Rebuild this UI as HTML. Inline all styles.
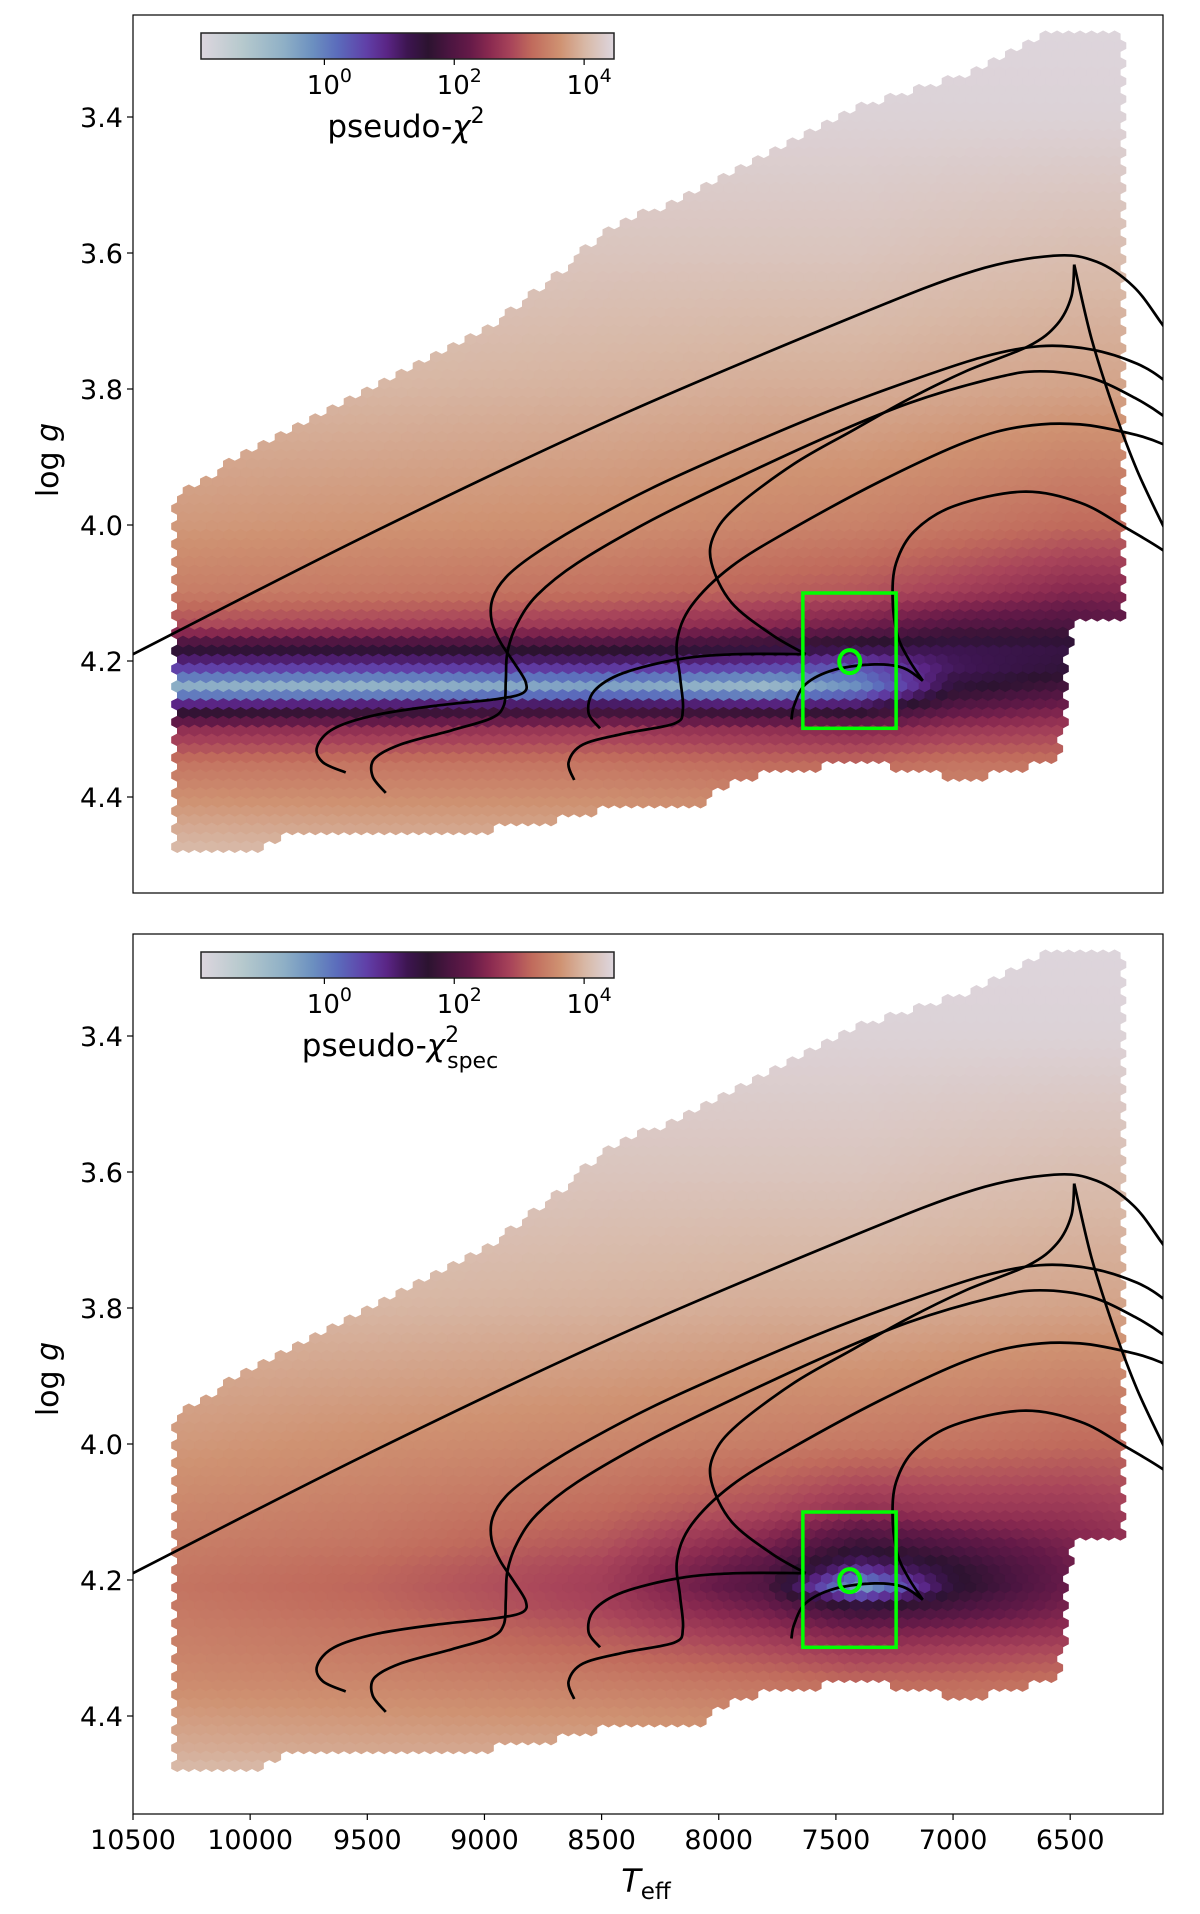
<!DOCTYPE html>
<html><head><meta charset="utf-8">
<style>
html,body{margin:0;padding:0;background:#fff;}
svg{display:block;font-family:"DejaVu Sans","Liberation Sans",sans-serif;}
</style></head>
<body>
<svg id="fig" width="1200" height="1914" viewBox="0 0 1200 1914" xmlns="http://www.w3.org/2000/svg">
<defs>
<linearGradient id="cmap" x1="0" x2="1" y1="0" y2="0"></linearGradient>
<clipPath id="clipTop"><rect x="133" y="15" width="1030" height="878"/></clipPath>
<clipPath id="clipBot"><rect x="133" y="934" width="1030" height="880"/></clipPath>
</defs>
<g id="panelTop"></g>
<g id="panelBot"></g>
</svg>
<script>
// ---------- data ----------
const tempCols = [10300, 9500, 8500, 7800, 7400, 7000, 6500, 6200];
const loggRows = [3.25, 3.4, 3.6, 3.8, 4.0, 4.1, 4.15, 4.18, 4.21, 4.24, 4.27, 4.30, 4.35, 4.45, 4.5];
const chi2Top = [
 [4.45,4.45,4.45,4.45,4.45,4.45,4.45,4.45],
 [4.4,4.4,4.4,4.4,4.4,4.4,4.4,4.4],
 [4.25,4.25,4.2,4.2,4.2,4.15,4.1,4.1],
 [4.0,4.0,3.95,3.9,3.9,3.85,3.8,3.8],
 [3.7,3.65,3.6,3.5,3.45,3.35,3.2,3.2],
 [3.4,3.35,3.25,3.1,3.0,2.8,2.5,2.5],
 [2.9,2.8,2.7,2.5,2.3,2.0,1.9,2.1],
 [1.7,1.7,1.8,1.6,1.4,1.3,1.4,1.7],
 [0.7,0.7,0.8,0.6,0.4,1.2,1.5,1.9],
 [-0.7,-0.8,-0.5,-0.9,-0.2,1.5,1.9,2.3],
 [1.4,1.5,1.6,1.5,1.4,2.1,2.4,2.6],
 [2.6,2.6,2.7,2.6,2.5,2.7,2.8,2.9],
 [3.3,3.3,3.3,3.2,3.2,3.3,3.3,3.3],
 [3.9,3.85,3.85,3.8,3.8,3.8,3.8,3.8],
 [4.15,4.15,4.15,4.15,4.15,4.15,4.15,4.15]
];
const chi2Spec = [
 [4.45,4.45,4.45,4.45,4.45,4.45,4.45,4.45],
 [4.4,4.4,4.4,4.4,4.4,4.4,4.4,4.4],
 [4.25,4.25,4.2,4.2,4.2,4.15,4.1,4.1],
 [4.0,4.0,3.95,3.9,3.9,3.85,3.8,3.8],
 [3.7,3.6,3.5,3.4,3.35,3.3,3.2,3.2],
 [3.5,3.4,3.2,2.9,2.6,2.7,2.7,2.8],
 [3.4,3.3,3.0,2.4,1.7,2.0,2.4,2.6],
 [3.35,3.2,2.85,2.1,1.0,1.6,2.3,2.6],
 [3.3,3.15,2.8,2.0,-0.5,1.5,2.3,2.6],
 [3.35,3.2,2.85,2.3,1.6,1.9,2.4,2.7],
 [3.4,3.3,3.0,2.6,2.3,2.4,2.6,2.8],
 [3.45,3.35,3.15,2.9,2.7,2.8,2.9,3.0],
 [3.55,3.5,3.4,3.3,3.2,3.2,3.3,3.3],
 [3.9,3.85,3.85,3.8,3.8,3.8,3.8,3.8],
 [4.15,4.15,4.15,4.15,4.15,4.15,4.15,4.15]
];
const upperT = [10330,10027,9507,8987,8467,7947,7427,6907,6647,6290];
const upperG = [3.963,3.891,3.80,3.712,3.568,3.479,3.389,3.335,3.282,3.273];
const lowerT = [10330,9930,9880,9500,8880,8600,8470,8080,7950,7430,6910,6540,6500,6290];
const lowerG = [4.475,4.475,4.455,4.455,4.446,4.43,4.41,4.42,4.375,4.348,4.375,4.34,4.142,4.142];

const track1 = [[[10650,4.216],[10500,4.190],[9507,4.016],[8467,3.846],[7427,3.694],[6907,3.626],[6569,3.604],[6387,3.613],[6231,3.649],[6111,3.703],[6000,3.76]]];
const track2 = [[[9592,4.364],[9690,4.349],[9714,4.326],[9641,4.299],[9458,4.279],[9190,4.265],[8946,4.256],[8836,4.247],[8824,4.231],[8873,4.203],[8934,4.171],[8970,4.140],[8965,4.108],[8909,4.077],[8799,4.046],[8604,4.004],[8287,3.946],[7921,3.889],[7556,3.836],[7190,3.789],[6873,3.753],[6629,3.737],[6409,3.742],[6214,3.763],[6092,3.789],[6000,3.82]]];
const track3 = [[[9421,4.394],[9477,4.370],[9470,4.344],[9360,4.323],[9141,4.302],[8970,4.284],[8917,4.265],[8909,4.229],[8902,4.187],[8860,4.145],[8775,4.103],[8604,4.056],[8287,3.993],[7921,3.931],[7556,3.873],[7190,3.821],[6824,3.784],[6629,3.774],[6409,3.784],[6214,3.815],[6092,3.842],[6000,3.87]]];
const track4 = [[[8617,4.375],[8641,4.349],[8580,4.323],[8409,4.307],[8190,4.292],[8153,4.271],[8165,4.224],[8178,4.171],[8117,4.119],[7946,4.061],[7678,4.004],[7312,3.936],[6946,3.878],[6702,3.855],[6458,3.852],[6214,3.868],[6092,3.883],[6000,3.90]]];
const track5 = [
 [[8507,4.299],[8556,4.276],[8531,4.244],[8409,4.218],[8165,4.197],[7921,4.190],[7629,4.190]],
 [[7629,4.190],[7775,4.161],[7946,4.114],[8031,4.056],[8019,4.014],[7921,3.972],[7678,3.910],[7434,3.862],[7190,3.815],[6946,3.774],[6678,3.737],[6556,3.705],[6495,3.664],[6483,3.617]],
 [[6483,3.617],[6409,3.726],[6312,3.831],[6214,3.920],[6092,4.009],[6000,4.07]]
];
const track6 = [
 [[7690,4.286],[7678,4.265],[7629,4.234],[7507,4.213],[7336,4.205],[7214,4.210],[7129,4.229]],
 [[7129,4.229],[7190,4.197],[7238,4.161],[7258,4.108],[7243,4.056],[7165,4.009],[6995,3.972],[6702,3.951],[6458,3.967],[6263,4.004],[6092,4.040],[6000,4.07]]
];
const tracks = [track1, track2, track3, track4, track5, track6];

const boxTeff = [7641, 7243];
const boxLogg = [4.100, 4.299];
const bestTeff = 7441;
const bestLogg = 4.201;

const xTicks = [10500, 10000, 9500, 9000, 8500, 8000, 7500, 7000, 6500];
const yTicks = [3.4, 3.6, 3.8, 4.0, 4.2, 4.4];
const yTickLabels = ["3.4", "3.6", "3.8", "4.0", "4.2", "4.4"];
const cbarTicks = [0, 2, 4];
const cbarMin = -1.9, cbarMax = 4.46;

const cmapPos = [0,0.1,0.2,0.27,0.33,0.4,0.45,0.5,0.55,0.6,0.65,0.7,0.75,0.8,0.87,0.93,1];
const cmapCol = ["#ddd6de","#b6c9cd","#8fb0c6","#6c90c0","#5b6cbc","#6040a8","#5a2585","#3d1550","#2c1330","#4a1540","#641a48","#8a2a50","#a8445a","#c06a5c","#cf9272","#d8b8a6","#ddd6de"];

// ---------- geometry ----------
const L = 133, R = 1163;
const panels = [
  {id:'panelTop', top:15, bottom:893, clip:'clipTop', grid:chi2Top, sub:null},
  {id:'panelBot', top:934, bottom:1814, clip:'clipBot', grid:chi2Spec, sub:'spec'}
];
const NS = 'http://www.w3.org/2000/svg';
function xS(T){ return L + (10500 - T) * 0.2343; }
function yS(g, p){ return p.top + (g - 3.25) * 680; }
function xInv(x){ return 10500 - (x - L) / 0.2343; }
function yInv(y, p){ return 3.25 + (y - p.top) / 680; }

function interpDesc(xs, ys, x){
  if (x >= xs[0]) return ys[0];
  for (let i = 1; i < xs.length; i++){
    if (x >= xs[i]){ const f = (xs[i-1]-x)/(xs[i-1]-xs[i]); return ys[i-1] + f*(ys[i]-ys[i-1]); }
  }
  return ys[ys.length-1];
}
function sampleGrid(grid, T, g){
  let ci = 0; while (ci < tempCols.length-2 && T < tempCols[ci+1]) ci++;
  let fc = (tempCols[ci]-T)/(tempCols[ci]-tempCols[ci+1]); fc = Math.max(0, Math.min(1, fc));
  let ri = 0; while (ri < loggRows.length-2 && g > loggRows[ri+1]) ri++;
  let fr = (g-loggRows[ri])/(loggRows[ri+1]-loggRows[ri]); fr = Math.max(0, Math.min(1, fr));
  const a = grid[ri][ci]*(1-fc) + grid[ri][ci+1]*fc;
  const b = grid[ri+1][ci]*(1-fc) + grid[ri+1][ci+1]*fc;
  return a*(1-fr) + b*fr;
}
function hex2rgb(h){ return [parseInt(h.substr(1,2),16),parseInt(h.substr(3,2),16),parseInt(h.substr(5,2),16)]; }
const cmapRGB = cmapCol.map(hex2rgb);
function cmap(v){
  let t = (v - cbarMin)/(cbarMax - cbarMin); t = Math.max(0, Math.min(1, t));
  let i = 0; while (i < cmapPos.length-2 && t > cmapPos[i+1]) i++;
  const f = (t - cmapPos[i])/(cmapPos[i+1]-cmapPos[i]);
  const c = cmapRGB[i].map((c0,k)=>Math.round(c0 + f*(cmapRGB[i+1][k]-c0)));
  return 'rgb('+c[0]+','+c[1]+','+c[2]+')';
}
const grad = document.getElementById('cmap');
cmapPos.forEach((p,i)=>{ const s=document.createElementNS(NS,'stop'); s.setAttribute('offset',p); s.setAttribute('stop-color',cmapCol[i]); grad.appendChild(s); });

function smoothPath(pts, p){
  const P = pts.map(q=>[xS(q[0]), yS(q[1], p)]);
  let d = 'M'+P[0][0].toFixed(1)+','+P[0][1].toFixed(1);
  for (let i = 0; i < P.length-1; i++){
    const p0 = P[Math.max(0,i-1)], p1 = P[i], p2 = P[i+1], p3 = P[Math.min(P.length-1,i+2)];
    const c1 = [p1[0]+(p2[0]-p0[0])/6, p1[1]+(p2[1]-p0[1])/6];
    const c2 = [p2[0]-(p3[0]-p1[0])/6, p2[1]-(p3[1]-p1[1])/6];
    d += ' C'+c1[0].toFixed(1)+','+c1[1].toFixed(1)+' '+c2[0].toFixed(1)+','+c2[1].toFixed(1)+' '+p2[0].toFixed(1)+','+p2[1].toFixed(1);
  }
  return d;
}
function mk(tag, attrs, parent){
  const e = document.createElementNS(NS, tag);
  for (const k in attrs) e.setAttribute(k, attrs[k]);
  parent.appendChild(e); return e;
}

const hw = 5.75, ha = 5.95, rowStep = 8.9;
panels.forEach((p, pi)=>{
  const g = document.getElementById(p.id);
  const hexG = mk('g', {'clip-path':'url(#'+p.clip+')'}, g);
  
  
  for (let r = 0; ; r++){
    const y = p.top + 4 + r*rowStep; if (y > p.bottom) break;
    const off = (r%2) ? hw : 0;
    for (let x = L + 4 + off; x < R; x += 2*hw){
      const T = xInv(x), gg = yInv(y, p);
      if (T > 10335 || T < 6285) continue;
      if (gg < interpDesc(upperT, upperG, T) || gg > interpDesc(lowerT, lowerG, T)) continue;
      const col = cmap(sampleGrid(p.grid, T, gg));
      const pts = [[x,y-ha],[x+hw,y-ha/2],[x+hw,y+ha/2],[x,y+ha],[x-hw,y+ha/2],[x-hw,y-ha/2]].map(q=>q[0].toFixed(1)+','+q[1].toFixed(1)).join(' ');
      const h = mk('polygon', {points:pts, fill:col, stroke:col, 'stroke-width':'0.6'}, hexG);
      
      
    }
  }
  const trG = mk('g', {'clip-path':'url(#'+p.clip+')', fill:'none', stroke:'#000', 'stroke-width':'2.7', 'stroke-linejoin':'round'}, g);
  
  
  tracks.forEach((tr, ti)=>{
    tr.forEach(seg=>{
      const pa = mk('path', {d:smoothPath(seg, p)}, trG);
      
      
    });
  });
  const bx = mk('rect', {x:xS(boxTeff[0]), y:yS(boxLogg[0],p), width:xS(boxTeff[1])-xS(boxTeff[0]), height:yS(boxLogg[1],p)-yS(boxLogg[0],p), fill:'none', stroke:'#00ff00', 'stroke-width':'3.5'}, g);
  
  
  const ci = mk('ellipse', {cx:xS(bestTeff), cy:yS(bestLogg,p), rx:10.5, ry:11.5, fill:'none', stroke:'#00ff00', 'stroke-width':'4'}, g);
  
  
  const fr = mk('rect', {x:L, y:p.top, width:R-L, height:p.bottom-p.top, fill:'none', stroke:'#000', 'stroke-width':'1.2'}, g);
  
  
  yTicks.forEach((t,i)=>{
    const yy = yS(t,p);
    const tk = mk('line', {x1:L-6, x2:L, y1:yy, y2:yy, stroke:'#000', 'stroke-width':'1.2'}, g);
    
    
    const tx = mk('text', {x:L-10, y:yy+10, 'text-anchor':'end', 'font-size':'27'}, g);
    tx.textContent = yTickLabels[i];
    
    
  });
  const yl = mk('text', {transform:'translate(58,'+(p.top+445)+') rotate(-90)', 'text-anchor':'middle', 'font-size':'30'}, g);
  yl.innerHTML = 'log <tspan font-style="italic">g</tspan>';
  
  
  const cy0 = p.top + 18, cy1 = p.top + 44;
  const cb = mk('rect', {x:201, y:cy0, width:413, height:cy1-cy0, fill:'url(#cmap)', stroke:'#222', 'stroke-width':'1.5'}, g);
  
  
  cbarTicks.forEach(t=>{
    const xx = 201 + (t - cbarMin)/(cbarMax - cbarMin)*413;
    const tk = mk('line', {x1:xx, x2:xx, y1:cy1, y2:cy1+6, stroke:'#000', 'stroke-width':'1.2'}, g);
    
    
    const tx = mk('text', {x:xx+5, y:cy1+35, 'text-anchor':'middle', 'font-size':'26'}, g);
    tx.innerHTML = '10<tspan dy="-12" font-size="19">'+t+'</tspan>';
    
    
  });
  const lab = mk('text', {x:p.sub ? 400 : 406, y:p.top+122, 'text-anchor':'middle', 'font-size':'31'}, g);
  lab.innerHTML = 'pseudo-<tspan font-style="italic">χ</tspan><tspan dy="-14" font-size="22">2</tspan>' + (p.sub ? '<tspan dx="-12" dy="26" font-size="22">spec</tspan>' : '');
  
  
  if (pi === 1){
    xTicks.forEach(t=>{
      const xx = xS(t);
      const tk = mk('line', {x1:xx, x2:xx, y1:p.bottom, y2:p.bottom+6, stroke:'#000', 'stroke-width':'1.2'}, g);
      
      
      const tx = mk('text', {x:xx, y:p.bottom+35, 'text-anchor':'middle', 'font-size':'27'}, g);
      tx.textContent = String(t);
      
      
    });
    const xl = mk('text', {x:646, y:p.bottom+78, 'text-anchor':'middle', 'font-size':'32'}, g);
    xl.innerHTML = '<tspan font-style="italic">T</tspan><tspan dy="7" font-size="23">eff</tspan>';
    
    
  }
});
</script>
</body></html>
